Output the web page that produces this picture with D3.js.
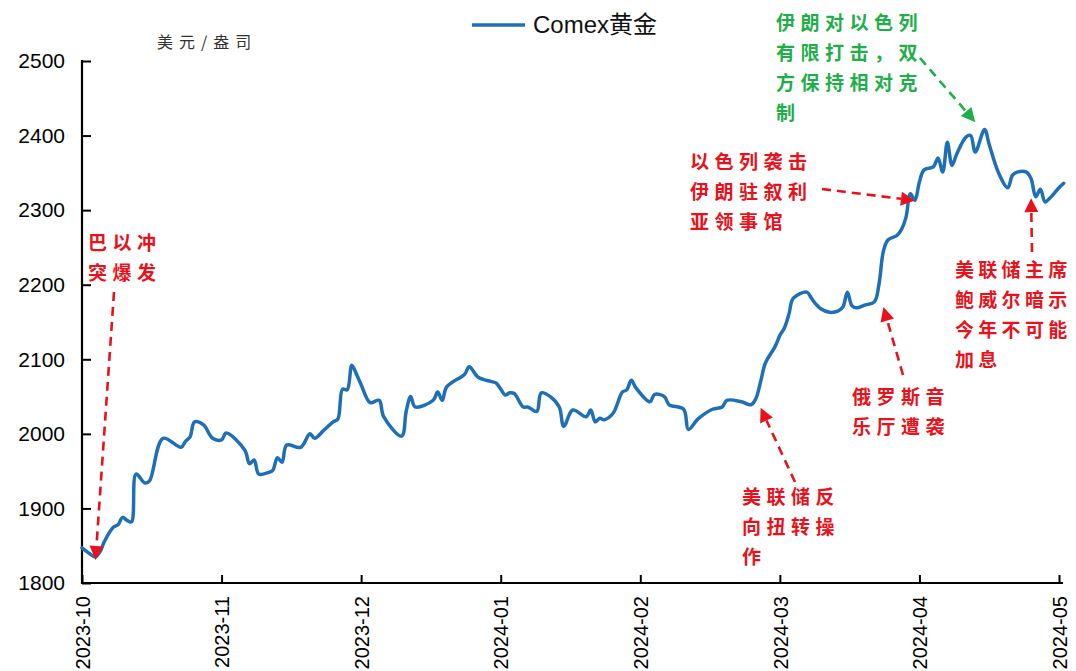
<!DOCTYPE html>
<html>
<head>
<meta charset="utf-8">
<script src="https://cdn.jsdelivr.net/npm/d3@7/dist/d3.min.js"></script>
<style>
  html, body { margin: 0; padding: 0; background: #fff; }
  svg { display: block; }
</style>
</head>
<body>
<svg id="chart" width="1076" height="671"></svg>
<script>
// Comex gold price, USD per ounce
const dates = [
  "2023-10-01","2023-10-03","2023-10-04","2023-10-05","2023-10-06","2023-10-08","2023-10-09","2023-10-10",
  "2023-10-11","2023-10-12","2023-10-13","2023-10-15","2023-10-16","2023-10-19","2023-10-23","2023-10-24",
  "2023-10-25","2023-10-26","2023-10-28","2023-10-30","2023-11-01","2023-11-02","2023-11-06","2023-11-07",
  "2023-11-08","2023-11-09","2023-11-11","2023-11-12","2023-11-13","2023-11-14","2023-11-15","2023-11-18",
  "2023-11-20","2023-11-21","2023-11-23","2023-11-25","2023-11-26","2023-11-27","2023-11-28","2023-11-29",
  "2023-11-30","2023-12-01","2023-12-03","2023-12-05","2023-12-06","2023-12-10","2023-12-11","2023-12-12",
  "2023-12-13","2023-12-17","2023-12-18","2023-12-19","2023-12-20","2023-12-24","2023-12-25","2023-12-27",
  "2023-12-30","2023-12-31","2024-01-01","2024-01-02","2024-01-03","2024-01-04","2024-01-06","2024-01-07",
  "2024-01-09","2024-01-10","2024-01-12","2024-01-14","2024-01-15","2024-01-17","2024-01-20","2024-01-21",
  "2024-01-22","2024-01-23","2024-01-24","2024-01-26","2024-01-28","2024-01-29","2024-01-30","2024-01-31",
  "2024-02-03","2024-02-04","2024-02-06","2024-02-07","2024-02-10","2024-02-11","2024-02-13","2024-02-16",
  "2024-02-18","2024-02-19","2024-02-22","2024-02-24","2024-02-25","2024-02-26","2024-02-27","2024-02-29",
  "2024-03-01","2024-03-02","2024-03-03","2024-03-04","2024-03-07","2024-03-08","2024-03-09","2024-03-10",
  "2024-03-12","2024-03-14","2024-03-15","2024-03-16","2024-03-17","2024-03-18","2024-03-20","2024-03-22",
  "2024-03-23","2024-03-24","2024-03-25","2024-03-27","2024-03-28","2024-03-29","2024-03-30","2024-03-31",
  "2024-04-01","2024-04-02","2024-04-04","2024-04-05","2024-04-06","2024-04-07","2024-04-08","2024-04-09",
  "2024-04-11","2024-04-12","2024-04-13","2024-04-15","2024-04-16","2024-04-18","2024-04-20","2024-04-21",
  "2024-04-22","2024-04-24","2024-04-25","2024-04-26","2024-04-27","2024-04-28","2024-04-29","2024-05-01",
  "2024-05-02"
];
const prices = [
  1847,1838,1835,1842,1856,1875,1878,1888,
  1884,1882,1946,1934,1937,1994,1982,1990,
  1996,2016,2012,1994,1992,2001,1978,1960,
  1965,1946,1948,1951,1968,1962,1985,1982,
  2000,1994,2005,2016,2020,2060,2059,2092,
  2080,2066,2042,2045,2023,1997,2030,2050,
  2036,2045,2056,2045,2063,2080,2090,2076,
  2070,2068,2060,2052,2055,2054,2036,2036,
  2030,2055,2050,2036,2010,2032,2023,2032,
  2016,2021,2019,2028,2056,2059,2072,2062,
  2043,2053,2050,2039,2033,2006,2020,2033,
  2036,2045,2043,2039,2047,2070,2095,2117,
  2132,2142,2160,2182,2190,2182,2174,2168,
  2163,2165,2170,2190,2172,2169,2173,2177,
  2200,2245,2260,2266,2274,2290,2322,2313,
  2338,2354,2358,2370,2351,2391,2360,2375,
  2398,2400,2378,2408,2388,2350,2330,2347,
  2351,2351,2342,2318,2328,2311,2316,2330,
  2336
];

// axis ticks
const monthTicks = ["2023-10","2023-11","2023-12","2024-01","2024-02","2024-03","2024-04","2024-05"];
const valueTicks = [1800,1900,2000,2100,2200,2300,2400,2500];

// event annotations: text lines, anchor date/value for the arrow tip
const noteLines = [
  ["巴以冲","突爆发"],
  ["美联储反","向扭转操","作"],
  ["俄罗斯音","乐厅遭袭"],
  ["以色列袭击","伊朗驻叙利","亚领事馆"],
  ["美联储主席","鲍威尔暗示","今年不可能","加息"],
  ["伊朗对以色列","有限打击，双","方保持相对克","制"]
];
const noteTipDates = ["2023-10-04","2024-02-26","2024-03-24","2024-03-31","2024-04-25","2024-04-13"];
const noteTipValues = [1831, 2035, 2170, 2313, 2316, 2418];

const seriesName = "Comex黄金";
const unitLabel = "美元/盎司";

const parse = d3.timeParse("%Y-%m-%d");
const parseMonth = d3.timeParse("%Y-%m");
const data = dates.map((d, i) => ({ date: parse(d), value: prices[i] }));

const svg = d3.select("#chart");
const plotLeft = 82, plotRight = 1059, plotTop = 61, plotBottom = 583;

// each month gets the same width on the axis
const monthDates = monthTicks.map(parseMonth);
const x = d3.scaleTime()
  .domain(monthDates)
  .range(monthDates.map((d, i) => plotLeft + (plotRight - plotLeft) * i / (monthDates.length - 1)));
const y = d3.scaleLinear().domain([1800, 2500]).range([plotBottom, plotTop]);

const tickFont = "'Liberation Sans', Arial, sans-serif";
const cjkFont = "'Noto Sans CJK SC', 'Noto Sans', sans-serif";

// y axis
const yAxis = svg.append("g")
  .attr("transform", `translate(${plotLeft},0)`)
  .call(d3.axisLeft(y).tickValues(valueTicks).tickFormat(d3.format("d"))
    .tickSizeInner(-9).tickSizeOuter(0).tickPadding(17));
yAxis.select(".domain").remove();
yAxis.selectAll(".tick line").attr("stroke", "#000").attr("stroke-width", 2);
yAxis.selectAll(".tick text")
  .attr("font-family", tickFont).attr("font-size", 21).attr("fill", "#000");
yAxis.append("line")
  .attr("x1", 0).attr("x2", 0).attr("y1", plotTop - 1).attr("y2", plotBottom + 1)
  .attr("stroke", "#000").attr("stroke-width", 2.2);

// x axis
const xAxis = svg.append("g")
  .attr("transform", `translate(0,${plotBottom})`)
  .call(d3.axisBottom(x).tickValues(monthDates).tickFormat(d3.timeFormat("%Y-%m"))
    .tickSizeInner(-8).tickSizeOuter(0));
xAxis.select(".domain").remove();
xAxis.selectAll(".tick line").attr("stroke", "#000").attr("stroke-width", 2);
xAxis.selectAll(".tick text")
  .attr("font-family", tickFont).attr("font-size", 20).attr("fill", "#000")
  .attr("text-anchor", "end")
  .attr("x", 0).attr("y", 0).attr("dy", "0.36em")
  .attr("transform", "translate(0,13) rotate(-90)");
xAxis.append("line")
  .attr("x1", plotLeft - 1).attr("x2", plotRight + 4).attr("y1", 0).attr("y2", 0)
  .attr("stroke", "#000").attr("stroke-width", 2.2);

// unit label
svg.append("text")
  .attr("x", 157).attr("y", 48)
  .attr("font-family", cjkFont).attr("font-size", 16)
  .attr("letter-spacing", 6).attr("fill", "#333")
  .text(unitLabel);

// price line
const lineColor = "#1f6fb6";
svg.append("path")
  .datum(data)
  .attr("fill", "none")
  .attr("stroke", lineColor)
  .attr("stroke-width", 3.5)
  .attr("stroke-linejoin", "round")
  .attr("stroke-linecap", "round")
  .attr("d", d3.line().x(d => x(d.date)).y(d => y(d.value)).curve(d3.curveCatmullRom.alpha(0.5)));

// legend
svg.append("line")
  .attr("x1", 472).attr("x2", 525).attr("y1", 25).attr("y2", 25)
  .attr("stroke", lineColor).attr("stroke-width", 3.5);
svg.append("text")
  .attr("x", 533).attr("y", 33)
  .attr("font-family", tickFont).attr("font-size", 24).attr("fill", "#111")
  .text("Comex")
  .append("tspan")
  .attr("font-family", cjkFont).attr("font-size", 24)
  .text("黄金");

// annotations
const red = "#e8121c", green = "#1fae4a";
const notes = [
  { tx: 88,  ty: 250, lh: 30, ls: 5.5, sx: 114, sy: 292, color: red },
  { tx: 742, ty: 504, lh: 30, ls: 5.5, sx: 795, sy: 482, color: red },
  { tx: 852, ty: 404, lh: 30, ls: 5.5, sx: 903, sy: 375, color: red },
  { tx: 690, ty: 169, lh: 30, ls: 5.5, sx: 822, sy: 189, color: red },
  { tx: 955, ty: 277, lh: 30, ls: 4.3, sx: 1032, sy: 252, color: red },
  { tx: 776, ty: 30,  lh: 30, ls: 5.5, sx: 920, sy: 58,  color: green }
];

function drawArrow(x1, y1, x2, y2, color) {
  const dx = x2 - x1, dy = y2 - y1;
  const len = Math.hypot(dx, dy);
  const ux = dx / len, uy = dy / len;
  const headLen = 14, headW = 7;
  const bx = x2 - ux * headLen, by = y2 - uy * headLen;
  svg.append("line")
    .attr("x1", x1).attr("y1", y1).attr("x2", bx).attr("y2", by)
    .attr("stroke", color).attr("stroke-width", 2.6)
    .attr("stroke-dasharray", "9,6");
  svg.append("path")
    .attr("d", `M${x2},${y2}L${bx - uy * headW},${by + ux * headW}L${bx + uy * headW},${by - ux * headW}Z`)
    .attr("fill", color);
}

notes.forEach((n, i) => {
  const t = svg.append("text")
    .attr("font-family", cjkFont).attr("font-size", 19).attr("font-weight", 700)
    .attr("letter-spacing", n.ls).attr("fill", n.color);
  noteLines[i].forEach((line, k) => {
    t.append("tspan").attr("x", n.tx).attr("y", n.ty + k * n.lh).text(line);
  });
  drawArrow(n.sx, n.sy, x(parse(noteTipDates[i])), y(noteTipValues[i]), n.color);
});
</script>
</body>
</html>
